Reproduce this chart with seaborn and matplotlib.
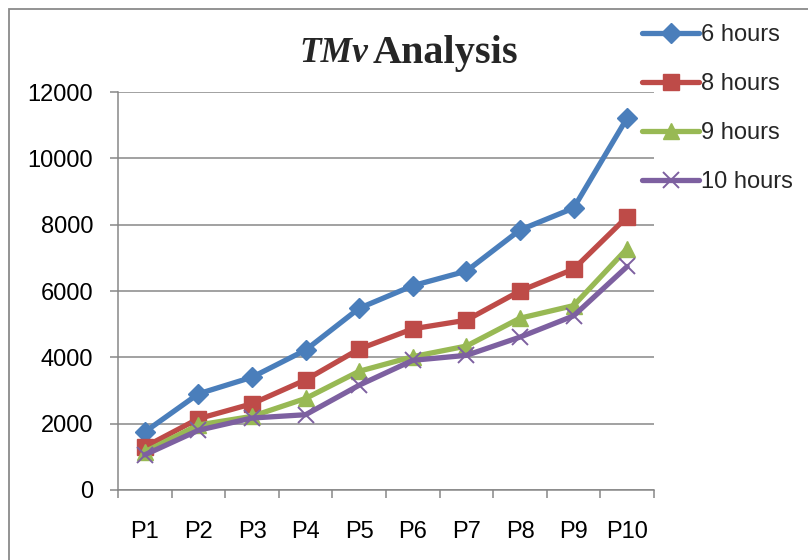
import matplotlib
matplotlib.use("Agg")
import matplotlib.pyplot as plt
import seaborn as sns
import pandas as pd
import numpy as np
from matplotlib.patches import Rectangle

categories = ["P1", "P2", "P3", "P4", "P5", "P6", "P7", "P8", "P9", "P10"]
h6 = [1750, 2900, 3400, 4220, 5480, 6160, 6600, 7840, 8500, 11220]
h8 = [1300, 2150, 2600, 3320, 4250, 4860, 5120, 6000, 6660, 8240]
h9 = [1150, 1960, 2220, 2760, 3580, 4020, 4340, 5180, 5560, 7280]
h10 = [1060, 1800, 2170, 2270, 3160, 3910, 4060, 4610, 5250, 6740]
series_names = ["6 hours", "8 hours", "9 hours", "10 hours"]
yticks = [0, 2000, 4000, 6000, 8000, 10000, 12000]

colors = {"6 hours": "#4A7EBB", "8 hours": "#BE4B48",
          "9 hours": "#98B954", "10 hours": "#7D60A0"}
markers = {"6 hours": "D", "8 hours": "s", "9 hours": "^", "10 hours": "x"}
msizes = {"6 hours": 12, "8 hours": 13, "9 hours": 14, "10 hours": 13}
leg_msizes = {"6 hours": 10, "8 hours": 11, "9 hours": 12, "10 hours": 11}

df = pd.DataFrame({
    "cat": categories * 4,
    "value": h6 + h8 + h9 + h10,
    "series": sum([[s] * len(categories) for s in series_names], []),
})
df["cat"] = pd.Categorical(df["cat"], categories=categories, ordered=True)

sns.set_theme(style="white")
plt.rcParams["font.family"] = ["Liberation Sans", "DejaVu Sans"]

fig = plt.figure(figsize=(8.08, 5.60), dpi=100)
ax = fig.add_axes([118 / 808, 1 - 490 / 560, (654 - 118) / 808, (490 - 92) / 560])

for s in series_names:
    sub = df[df["series"] == s]
    sns.lineplot(data=sub, x="cat", y="value", ax=ax, color=colors[s],
                 marker=markers[s], markersize=msizes[s], linewidth=3.8,
                 markeredgecolor=colors[s],
                 markeredgewidth=1.4 if s == "10 hours" else 1,
                 label=s, legend=False)

ax.set_xlim(-0.5, len(categories) - 0.5)
ax.set_ylim(0, 12000)
ax.set_yticks(yticks)
ax.set_yticklabels([str(v) for v in yticks])
ax.set_xticks(range(len(categories)))
ax.set_xticklabels(categories)
ax.set_xticks(np.arange(-0.5, len(categories), 1.0), minor=True)
ax.set_xlabel("")
ax.set_ylabel("")

grid_c = "#878787"
ax.yaxis.grid(True, color=grid_c, linewidth=1.1)
ax.xaxis.grid(False)
ax.set_axisbelow(True)
for side in ["top", "right"]:
    ax.spines[side].set_visible(False)
for side in ["left", "bottom"]:
    ax.spines[side].set_color(grid_c)
    ax.spines[side].set_linewidth(1.1)

ax.tick_params(axis="y", which="major", left=True, length=5.8, width=1.1,
               color=grid_c, pad=12, labelsize=17, labelcolor="black")
ax.tick_params(axis="x", which="major", bottom=False, length=0, pad=22,
               labelsize=17, labelcolor="black")
ax.tick_params(axis="x", which="minor", bottom=True, length=5.8, width=1.1,
               color=grid_c)

# title with mixed styles
fig.text(368 / 808, 1 - 54 / 560, "TMv", ha="right", va="center",
         family=["Liberation Serif"], fontsize=25.5, fontweight="bold",
         fontstyle="italic")
fig.text(373 / 808, 1 - 54 / 560, "Analysis", ha="left", va="center",
         family=["Liberation Serif"], fontsize=29, fontweight="bold")

handles, labels = ax.get_legend_handles_labels()
for h, l in zip(handles, labels):
    h.set_markersize(leg_msizes[l])
    h.set_linewidth(3.8)
leg = fig.legend(handles, labels, loc="upper left",
                 bbox_to_anchor=(633 / 808, 1 - 15 / 560),
                 frameon=False, fontsize=17, handlelength=2.4,
                 handletextpad=0.1, labelspacing=1.14, borderaxespad=0)

# outer chart border
fig.add_artist(Rectangle((9 / 808, -0.1), 1.2, 1.1 - 9 / 560,
                         transform=fig.transFigure, fill=False,
                         edgecolor="#8a8a8a", linewidth=1.3))

fig.savefig("out.png", dpi=100)
